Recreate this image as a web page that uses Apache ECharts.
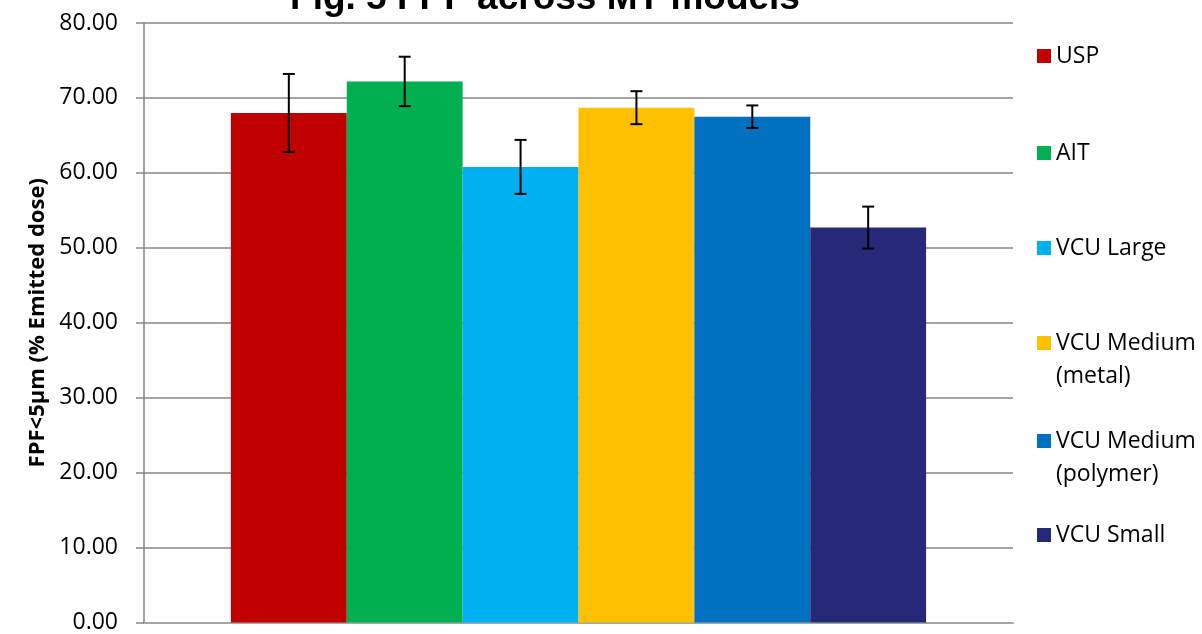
<!DOCTYPE html>
<html>
<head>
<meta charset="utf-8">
<script src="https://cdn.jsdelivr.net/npm/echarts@6/dist/echarts.min.js"></script>
<style>html,body{margin:0;padding:0;background:#fff;}#c{width:1202px;height:634px;}</style>
</head>
<body>
<div id="c"></div>
<script>
const categories = ['FPF'];
const seriesNames = ['USP', 'AIT', 'VCU Large', 'VCU Medium (metal)', 'VCU Medium (polymer)', 'VCU Small'];
const legendLabels = ['USP', 'AIT', 'VCU Large', 'VCU Medium\n(metal)', 'VCU Medium\n(polymer)', 'VCU Small'];
const colors = ['#C00000', '#00B050', '#00B0F0', '#FFC000', '#0070C0', '#262878'];
const means = [68.0, 72.2, 60.8, 68.7, 67.5, 52.7];
const errors = [5.2, 3.3, 3.6, 2.2, 1.5, 2.8];
const yMin = 0, yMax = 80, yInterval = 10;
const legendIconY = [56, 153, 248, 343, 441, 535];

const LH = 33;
const FONT = 'Open Sans';

const barSeries = seriesNames.map((name, i) => ({
  name: name,
  type: 'bar',
  data: [means[i]],
  itemStyle: { color: colors[i] },
  barGap: '0%',
  barCategoryGap: '20%'
}));

const nSeries = seriesNames.length;
const errorSeries = {
  type: 'custom',
  name: 'errors',
  z: 10,
  data: means.map((m, i) => [0, i, m - errors[i], m + errors[i]]),
  renderItem: function (params, api) {
    const cat = api.value(0);
    const idx = api.value(1);
    const lowPt = api.coord([cat, api.value(2)]);
    const highPt = api.coord([cat, api.value(3)]);
    const band = api.size([1, 0])[0];
    const groupW = band * 0.8;
    const bw = groupW / nSeries;
    const x = lowPt[0] - groupW / 2 + bw * (idx + 0.5);
    const hw = 6;
    const st = { stroke: '#000', lineWidth: 2 };
    return {
      type: 'group',
      children: [
        { type: 'line', shape: { x1: x, y1: highPt[1], x2: x, y2: lowPt[1] }, style: st },
        { type: 'line', shape: { x1: x - hw, y1: highPt[1], x2: x + hw, y2: highPt[1] }, style: st },
        { type: 'line', shape: { x1: x - hw, y1: lowPt[1], x2: x + hw, y2: lowPt[1] }, style: st }
      ]
    };
  }
};

const legends = seriesNames.map((name, i) => {
  const multi = legendLabels[i].indexOf('\n') >= 0;
  // for two-line labels, an empty leading line centres the icon on the first text line
  const label = multi ? ' \n' + legendLabels[i] : legendLabels[i];
  return {
    orient: 'vertical',
    left: 1037,
    top: legendIconY[i] - (multi ? LH * 1.5 : LH / 2),
    padding: 0,
    itemWidth: 14,
    itemHeight: 14,
    icon: 'rect',
    selectedMode: false,
    formatter: function () { return label; },
    textStyle: { fontFamily: FONT, fontSize: 23, color: '#000', lineHeight: LH },
    data: [{ name: name, itemStyle: { color: colors[i] } }]
  };
});

const chart = echarts.init(document.getElementById('c'));
chart.setOption({
  animation: false,
  backgroundColor: '#fff',
  title: {
    text: 'Fig. 5 FPF across MT models',
    left: 545,
    textAlign: 'center',
    top: -20,
    padding: 0,
    textStyle: { fontFamily: 'Liberation Sans', fontWeight: 'bold', fontSize: 37, color: '#000', lineHeight: 37 }
  },
  legend: legends,
  grid: { left: 144, right: 189, top: 23, bottom: 7, containLabel: false },
  xAxis: {
    type: 'category',
    data: categories,
    axisLine: { show: true, lineStyle: { color: '#A6A6A6', width: 2 } },
    axisTick: { show: false },
    axisLabel: { show: false },
    splitLine: { show: false }
  },
  yAxis: {
    type: 'value',
    min: yMin, max: yMax, interval: yInterval,
    name: 'FPF<5µm (% Emitted dose)',
    nameLocation: 'middle',
    nameGap: 95,
    nameRotate: 90,
    nameTextStyle: { fontFamily: FONT, fontWeight: 'bold', fontSize: 22, color: '#000' },
    axisLine: { show: true, lineStyle: { color: '#868686', width: 1.5 } },
    axisTick: { show: true, inside: false, length: 8, lineStyle: { color: '#868686', width: 1.5 } },
    axisLabel: {
      margin: 26, fontFamily: FONT, fontSize: 23, color: '#000',
      formatter: v => v.toFixed(2)
    },
    splitLine: { show: true, lineStyle: { color: '#868686', width: 1.5 } }
  },
  series: barSeries.concat([errorSeries])
});
</script>
</body>
</html>
